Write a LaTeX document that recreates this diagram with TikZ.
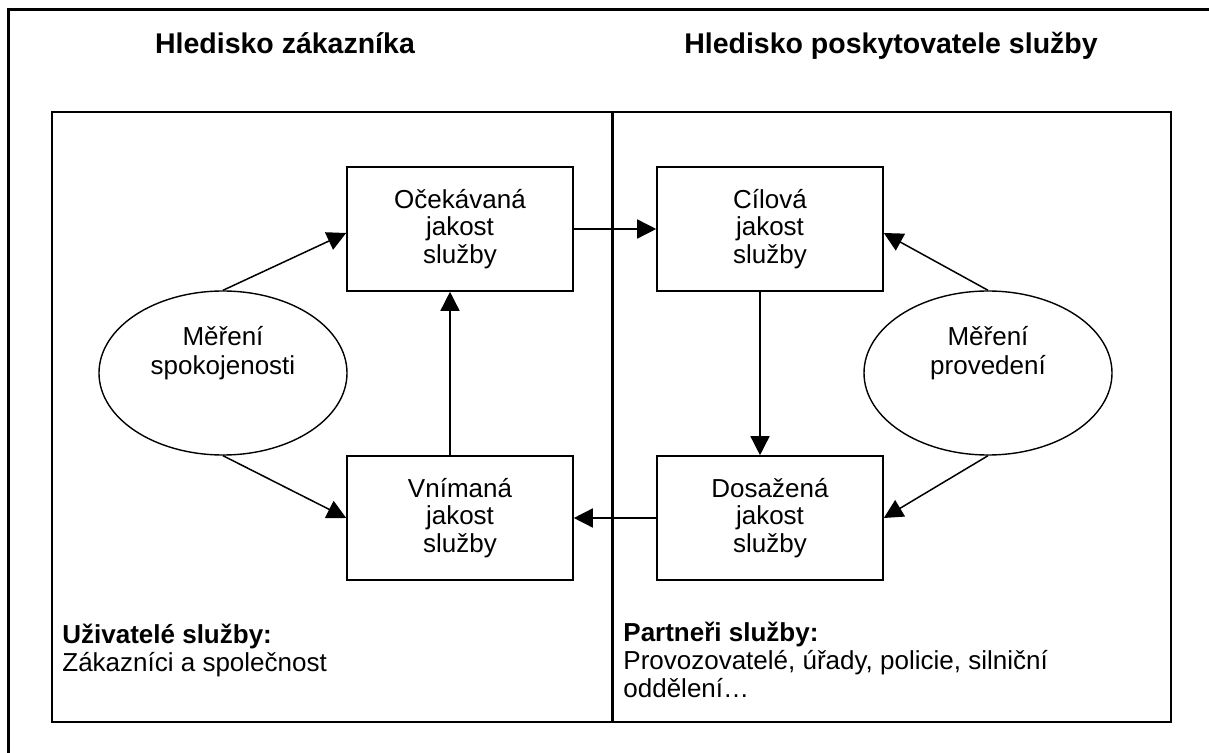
\documentclass[tikz,border=0pt]{standalone}
\usepackage{fontspec}
\setmainfont{Liberation Sans}
\usetikzlibrary{arrows.meta,shapes.geometric}

\tikzset{
  jbox/.style={draw, line width=0.8pt, minimum width=113pt, minimum height=62pt,
    align=center, inner sep=0pt, font=\fontsize{13}{13.75}\selectfont},
  measure/.style={draw, ellipse, line width=0.7pt, minimum width=124pt, minimum height=82pt, inner sep=0pt},
  mtext/.style={align=center, font=\fontsize{13}{14.5}\selectfont},
  arr/.style={-{Triangle[length=9.5pt,width=9.5pt]}, line width=0.75pt},
  head/.style={anchor=base, font=\fontsize{14.25}{16}\selectfont\bfseries},
  note/.style={align=left, anchor=north west, inner sep=0pt, font=\fontsize{13}{14}\selectfont}
}

\begin{document}
\begin{tikzpicture}[x=0.5pt, y=-0.5pt]
		\useasboundingbox (0,0) rectangle (1209,753);
		\clip (0,0) rectangle (1209,753);

		% Frame
		\draw[line width=1.5pt] (8,770) -- (8,10) -- (1230,10);
		\draw[line width=1pt] (52,112) rectangle (1171,722);
		\draw[line width=1.5pt] (612,112) -- (612,722);

		% Headings
		\node[head] (hzak) at (285,54) {Hledisko zákazníka};
		\node[head] (hposk) at (891,54) {Hledisko poskytovatele služby};

		% Boxes
		\node[jbox] (ocek) at (460,229) {Očekávaná\\jakost\\služby};
		\node[jbox] (cil) at (770,229) {Cílová\\jakost\\služby};
		\node[jbox] (vnim) at (460,518) {Vnímaná\\jakost\\služby};
		\node[jbox] (dosaz) at (770,518) {Dosažená\\jakost\\služby};

		% Ellipses
		\node[measure] (mspok) at (223,373) {};
		\node[mtext] (mspoktext) at (223,353) {Měření\\spokojenosti};
		\node[measure] (mprov) at (988,373) {};
		\node[mtext] (mprovtext) at (988,353) {Měření\\provedení};

		% Arrows
		\draw[arr] (ocek.east) -- (cil.west);
		\draw[arr] (dosaz.west) -- (vnim.east);
		\draw[arr] ([xshift=-5pt]vnim.north) -- ([xshift=-5pt]ocek.south);
		\draw[arr] ([xshift=-5pt]cil.south) -- ([xshift=-5pt]dosaz.north);
		%
		\draw[arr] (mspok.north) -- ([yshift=-2pt]ocek.west);
		\draw[arr] (mspok.south) -- (vnim.west);
		\draw[arr] (mprov.north) -- ([yshift=-2pt]cil.east);
		\draw[arr] (mprov.south) -- (dosaz.east);

		% Notes
		\node[note] (users) at (62,624) {\textbf{Uživatelé služby:}\\Zákazníci a společnost};
		\node[note] (partners) at (623,622) {\textbf{Partneři služby:}\\Provozovatelé, úřady, policie, silniční\\oddělení…};
	\end{tikzpicture}
\end{document}
